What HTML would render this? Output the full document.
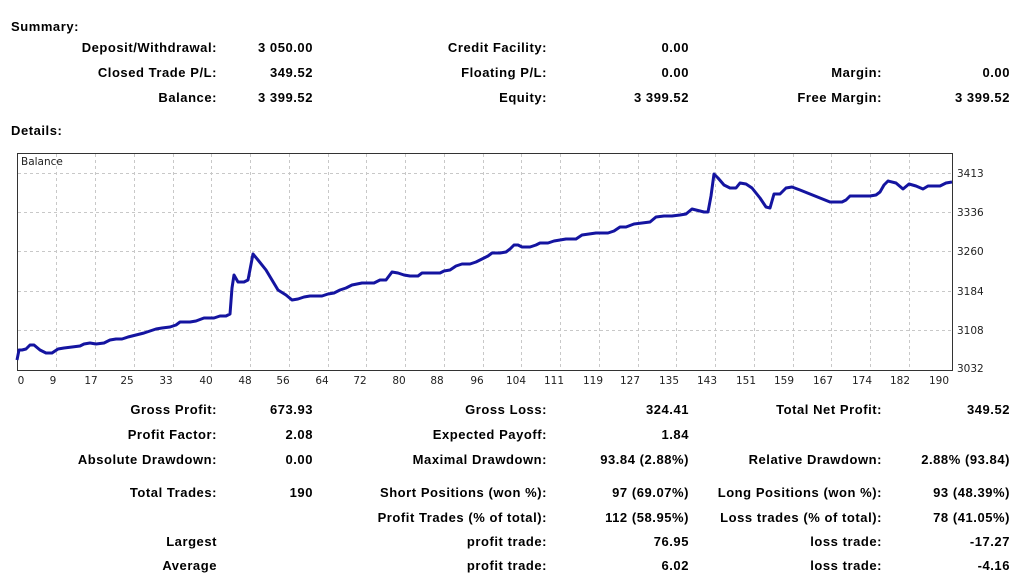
<!DOCTYPE html>
<html><head><meta charset="utf-8"><style>
body{margin:0;width:1024px;height:579px;background:#fff;position:relative;overflow:hidden;font-family:"Liberation Sans",Arial,sans-serif;font-weight:bold;font-size:13px;color:#000;letter-spacing:0.55px}
.t{position:absolute;line-height:16px;white-space:nowrap}
.r{position:absolute;line-height:16px;white-space:nowrap;text-align:right;width:300px}
</style></head><body>
<div class="t" style="left:11px;top:19px">Summary:</div>
<div class="t" style="left:11px;top:123px">Details:</div>

<div class="r" style="left:-83px;top:40px">Deposit/Withdrawal:</div>
<div class="r" style="left:13px;top:40px">3 050.00</div>
<div class="r" style="left:247px;top:40px">Credit Facility:</div>
<div class="r" style="left:389px;top:40px">0.00</div>

<div class="r" style="left:-83px;top:65px">Closed Trade P/L:</div>
<div class="r" style="left:13px;top:65px">349.52</div>
<div class="r" style="left:247px;top:65px">Floating P/L:</div>
<div class="r" style="left:389px;top:65px">0.00</div>
<div class="r" style="left:582px;top:65px">Margin:</div>
<div class="r" style="left:710px;top:65px">0.00</div>

<div class="r" style="left:-83px;top:90px">Balance:</div>
<div class="r" style="left:13px;top:90px">3 399.52</div>
<div class="r" style="left:247px;top:90px">Equity:</div>
<div class="r" style="left:389px;top:90px">3 399.52</div>
<div class="r" style="left:582px;top:90px">Free Margin:</div>
<div class="r" style="left:710px;top:90px">3 399.52</div>

<svg style="position:absolute;left:0;top:0;letter-spacing:0" width="1024" height="400">
<g stroke="#c8c8c8" stroke-dasharray="3,3" stroke-width="1">
<line x1="18" y1="173.5" x2="952" y2="173.5"/><line x1="18" y1="212.5" x2="952" y2="212.5"/><line x1="18" y1="251.5" x2="952" y2="251.5"/><line x1="18" y1="291.5" x2="952" y2="291.5"/><line x1="18" y1="330.5" x2="952" y2="330.5"/>
<line x1="56.5" y1="154" x2="56.5" y2="370"/><line x1="95.5" y1="154" x2="95.5" y2="370"/><line x1="134.5" y1="154" x2="134.5" y2="370"/><line x1="173.5" y1="154" x2="173.5" y2="370"/><line x1="211.5" y1="154" x2="211.5" y2="370"/><line x1="250.5" y1="154" x2="250.5" y2="370"/><line x1="289.5" y1="154" x2="289.5" y2="370"/><line x1="328.5" y1="154" x2="328.5" y2="370"/><line x1="366.5" y1="154" x2="366.5" y2="370"/><line x1="405.5" y1="154" x2="405.5" y2="370"/><line x1="444.5" y1="154" x2="444.5" y2="370"/><line x1="483.5" y1="154" x2="483.5" y2="370"/><line x1="521.5" y1="154" x2="521.5" y2="370"/><line x1="560.5" y1="154" x2="560.5" y2="370"/><line x1="599.5" y1="154" x2="599.5" y2="370"/><line x1="638.5" y1="154" x2="638.5" y2="370"/><line x1="676.5" y1="154" x2="676.5" y2="370"/><line x1="715.5" y1="154" x2="715.5" y2="370"/><line x1="754.5" y1="154" x2="754.5" y2="370"/><line x1="793.5" y1="154" x2="793.5" y2="370"/><line x1="831.5" y1="154" x2="831.5" y2="370"/><line x1="870.5" y1="154" x2="870.5" y2="370"/><line x1="909.5" y1="154" x2="909.5" y2="370"/>
</g>
<rect x="17.5" y="153.5" width="935" height="217" fill="none" stroke="#333" stroke-width="1"/>
<polyline fill="none" stroke="#1414a0" stroke-width="3" stroke-linejoin="round" points="17,360 19,350 22,350 26,349 30,345 34,345 40,350 46,353 52,353 58,349 64,348 72,347 80,346 84,344 90,343 96,344 104,343 110,340 116,339 122,339 128,337 136,335 144,333 150,331 156,329 162,328 170,327 176,325 180,322 190,322 196,321 204,318 214,318 220,316 226,316 230,314 232,288 234,275 238,282 244,282 248,280 253,254 258,260 266,270 272,280 278,290 286,295 292,300 298,299 304,297 310,296 322,296 328,294 334,293 340,290 346,288 352,285 362,283 374,283 380,280 386,280 392,272 398,273 404,275 410,276 418,276 422,273 434,273 440,273 444,271 450,270 456,266 462,264 470,264 476,262 482,259 488,256 492,253 500,253 506,252 510,249 514,245 518,245 522,247 530,247 536,245 540,243 548,243 554,241 566,239 576,239 582,235 596,233 608,233 614,231 620,227 626,227 634,224 650,222 656,217 664,216 672,216 680,215 686,214 692,209 700,211 704,212 708,212 711,196 714,174 718,178 724,185 730,188 736,188 740,183 746,184 752,188 760,198 766,207 770,208 774,194 780,194 786,188 792,187 800,190 810,194 820,198 830,202 842,202 846,200 850,196 860,196 870,196 876,195 880,192 884,185 888,181 896,183 903,189 909,184 916,186 923,189 928,186 940,186 946,183 952,182"/>
<g font-family="DejaVu Sans,sans-serif" font-weight="normal" font-size="10.5" fill="#222">
<text x="21" y="165">Balance</text>
<g text-anchor="start"><text x="957" y="177">3413</text><text x="957" y="216">3336</text><text x="957" y="255">3260</text><text x="957" y="295">3184</text><text x="957" y="334">3108</text><text x="957" y="372">3032</text></g>
<g text-anchor="middle"><text x="21" y="384">0</text><text x="53" y="384">9</text><text x="91" y="384">17</text><text x="127" y="384">25</text><text x="166" y="384">33</text><text x="206" y="384">40</text><text x="245" y="384">48</text><text x="283" y="384">56</text><text x="322" y="384">64</text><text x="360" y="384">72</text><text x="399" y="384">80</text><text x="437" y="384">88</text><text x="477" y="384">96</text><text x="516" y="384">104</text><text x="554" y="384">111</text><text x="593" y="384">119</text><text x="630" y="384">127</text><text x="669" y="384">135</text><text x="707" y="384">143</text><text x="746" y="384">151</text><text x="784" y="384">159</text><text x="823" y="384">167</text><text x="862" y="384">174</text><text x="900" y="384">182</text><text x="939" y="384">190</text></g>
</g>
</svg>

<div class="r" style="left:-83px;top:402px">Gross Profit:</div>
<div class="r" style="left:13px;top:402px">673.93</div>
<div class="r" style="left:247px;top:402px">Gross Loss:</div>
<div class="r" style="left:389px;top:402px">324.41</div>
<div class="r" style="left:582px;top:402px">Total Net Profit:</div>
<div class="r" style="left:710px;top:402px">349.52</div>

<div class="r" style="left:-83px;top:427px">Profit Factor:</div>
<div class="r" style="left:13px;top:427px">2.08</div>
<div class="r" style="left:247px;top:427px">Expected Payoff:</div>
<div class="r" style="left:389px;top:427px">1.84</div>

<div class="r" style="left:-83px;top:452px">Absolute Drawdown:</div>
<div class="r" style="left:13px;top:452px">0.00</div>
<div class="r" style="left:247px;top:452px">Maximal Drawdown:</div>
<div class="r" style="left:389px;top:452px">93.84 (2.88%)</div>
<div class="r" style="left:582px;top:452px">Relative Drawdown:</div>
<div class="r" style="left:710px;top:452px">2.88% (93.84)</div>

<div class="r" style="left:-83px;top:485px">Total Trades:</div>
<div class="r" style="left:13px;top:485px">190</div>
<div class="r" style="left:247px;top:485px">Short Positions (won %):</div>
<div class="r" style="left:389px;top:485px">97 (69.07%)</div>
<div class="r" style="left:582px;top:485px">Long Positions (won %):</div>
<div class="r" style="left:710px;top:485px">93 (48.39%)</div>

<div class="r" style="left:247px;top:510px">Profit Trades (% of total):</div>
<div class="r" style="left:389px;top:510px">112 (58.95%)</div>
<div class="r" style="left:582px;top:510px">Loss trades (% of total):</div>
<div class="r" style="left:710px;top:510px">78 (41.05%)</div>

<div class="r" style="left:-83px;top:534px">Largest</div>
<div class="r" style="left:247px;top:534px">profit trade:</div>
<div class="r" style="left:389px;top:534px">76.95</div>
<div class="r" style="left:582px;top:534px">loss trade:</div>
<div class="r" style="left:710px;top:534px">-17.27</div>

<div class="r" style="left:-83px;top:558px">Average</div>
<div class="r" style="left:247px;top:558px">profit trade:</div>
<div class="r" style="left:389px;top:558px">6.02</div>
<div class="r" style="left:582px;top:558px">loss trade:</div>
<div class="r" style="left:710px;top:558px">-4.16</div>
</body></html>
